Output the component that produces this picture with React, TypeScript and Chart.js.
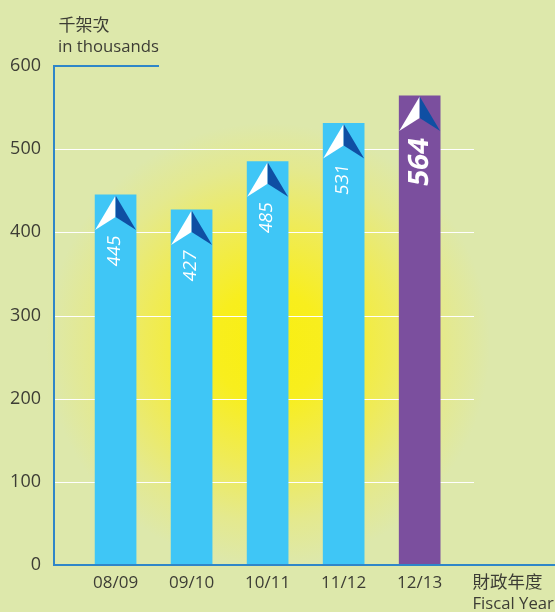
import React, { useEffect, useRef } from "react";
import { Chart, registerables } from "chart.js";

Chart.register(...registerables);

const categories = ["08/09", "09/10", "10/11", "11/12", "12/13"];
const values = [445, 427, 485, 531, 564];
const barColors = ["#3FC6F6", "#3FC6F6", "#3FC6F6", "#3FC6F6", "#7B4F9E"];
const yTicks = [0, 100, 200, 300, 400, 500, 600];

const BG = "#DDE8AB";
const INK = "#3D3D35";
const AXIS = "#2F86C8";
const SANS = '"Open Sans", "Noto Sans", sans-serif';
const CJK = '"Noto Sans CJK TC", sans-serif';

const decor = {
  id: "decor",
  beforeDraw(chart: any) {
    const { ctx, width, height, scales } = chart;
    ctx.save();
    ctx.fillStyle = BG;
    ctx.fillRect(0, 0, width, height);
    const cx = 268, cy = 345, r = 222;
    const g = ctx.createRadialGradient(cx, cy, 0, cx, cy, r);
    g.addColorStop(0, "#F9EF10");
    g.addColorStop(0.25, "#F8EE1E");
    g.addColorStop(0.55, "#EFEB58");
    g.addColorStop(0.8, "#E4E98E");
    g.addColorStop(1, "rgba(221,232,171,1)");
    ctx.fillStyle = g;
    ctx.beginPath();
    ctx.arc(cx, cy, r, 0, Math.PI * 2);
    ctx.fill();
    // grid lines
    ctx.strokeStyle = "#FFFFFF";
    ctx.lineWidth = 1.2;
    for (const v of yTicks) {
      if (v === 0 || v === 600) continue;
      const y = Math.round(scales.y.getPixelForValue(v)) + 0.5;
      ctx.beginPath();
      ctx.moveTo(scales.y.right, y);
      ctx.lineTo(474, y);
      ctx.stroke();
    }
    ctx.restore();
  },
  afterDatasetsDraw(chart: any) {
    const { ctx, scales } = chart;
    const bars = chart.getDatasetMeta(0).data;
    ctx.save();
    bars.forEach((bar: any, i: number) => {
      const top = bar.y;
      const half = 20.5;
      const x = bar.x;
      ctx.fillStyle = "#FFFFFF";
      ctx.beginPath();
      ctx.moveTo(x, top + 0.5);
      ctx.lineTo(x - half, top + 35);
      ctx.lineTo(x, top + 22);
      ctx.closePath();
      ctx.fill();
      ctx.fillStyle = "#0F4FA3";
      ctx.beginPath();
      ctx.moveTo(x, top + 0.5);
      ctx.lineTo(x + half, top + 35);
      ctx.lineTo(x, top + 22);
      ctx.closePath();
      ctx.fill();

      const last = i === values.length - 1;
      ctx.save();
      ctx.translate(x - (last ? 0 : 0.5), top + (last ? 66 : 56));
      ctx.rotate(-Math.PI / 2);
      ctx.transform(1, 0, -0.14, 1, 0, 0);
      ctx.fillStyle = "#FFFFFF";
      ctx.textAlign = "center";
      ctx.textBaseline = "middle";
      ctx.font = last ? `bold 28px ${SANS}` : `18px ${SANS}`;
      ctx.fillText(String(values[i]), 0, 0);
      ctx.restore();
    });

    // axes
    const left = scales.y.right;
    const y0 = scales.y.getPixelForValue(0);
    const y6 = scales.y.getPixelForValue(600);
    ctx.strokeStyle = AXIS;
    ctx.lineWidth = 2;
    ctx.beginPath();
    ctx.moveTo(159, y6);
    ctx.lineTo(left, y6);
    ctx.lineTo(left, y0);
    ctx.lineTo(555, y0);
    ctx.stroke();

    // axis captions
    ctx.fillStyle = INK;
    ctx.textAlign = "left";
    ctx.textBaseline = "alphabetic";
    ctx.font = `17px ${CJK}`;
    ctx.fillText("千架次", 58.5, 31);
    ctx.font = `17.5px ${CJK}`;
    ctx.fillText("財政年度", 472.5, 588);
    ctx.font = `16.7px ${SANS}`;
    ctx.fillText("in thousands", 58, 52);
    ctx.fillText("Fiscal Year", 472.5, 609);
    ctx.restore();
  },
};

export default function App() {
  const ref = useRef<HTMLCanvasElement>(null);
  useEffect(() => {
    document.body.style.margin = "0";
    const chart = new Chart(ref.current!, {
      type: "bar",
      data: {
        labels: categories,
        datasets: [
          {
            data: values.map((v, i) => ({ x: i, y: v })),
            backgroundColor: barColors,
            barThickness: 41,
            borderWidth: 0,
          },
        ],
      },
      plugins: [decor],
      options: {
        animation: false,
        responsive: false,
        layout: { padding: { top: 66, right: 0, left: 0, bottom: 0 } },
        plugins: { legend: { display: false }, tooltip: { enabled: false } },
        scales: {
          x: {
            type: "linear",
            offset: false,
            min: -0.81,
            max: 5.78,
            grid: { display: false, offset: false },
            border: { display: false },
            afterBuildTicks(scale: any) {
              scale.ticks = categories.map((_, i) => ({ value: i }));
            },
            afterFit(scale: any) {
              scale.height = 47;
            },
            ticks: {
              autoSkip: false,
              maxRotation: 0,
              padding: 0,
              color: INK,
              font: { family: SANS, size: 17 },
              callback: (v: any) => categories[v],
            },
          },
          y: {
            min: 0,
            max: 600,
            grid: { display: false },
            border: { display: false },
            afterBuildTicks(scale: any) {
              scale.ticks = yTicks.map((value) => ({ value }));
            },
            afterFit(scale: any) {
              scale.width = 54;
            },
            ticks: {
              padding: 5,
              color: INK,
              font: { family: SANS, size: 18 },
            },
          },
        },
      },
    } as any);
    return () => chart.destroy();
  }, []);
  return <canvas ref={ref} width={555} height={612} style={{ display: "block" }} />;
}
